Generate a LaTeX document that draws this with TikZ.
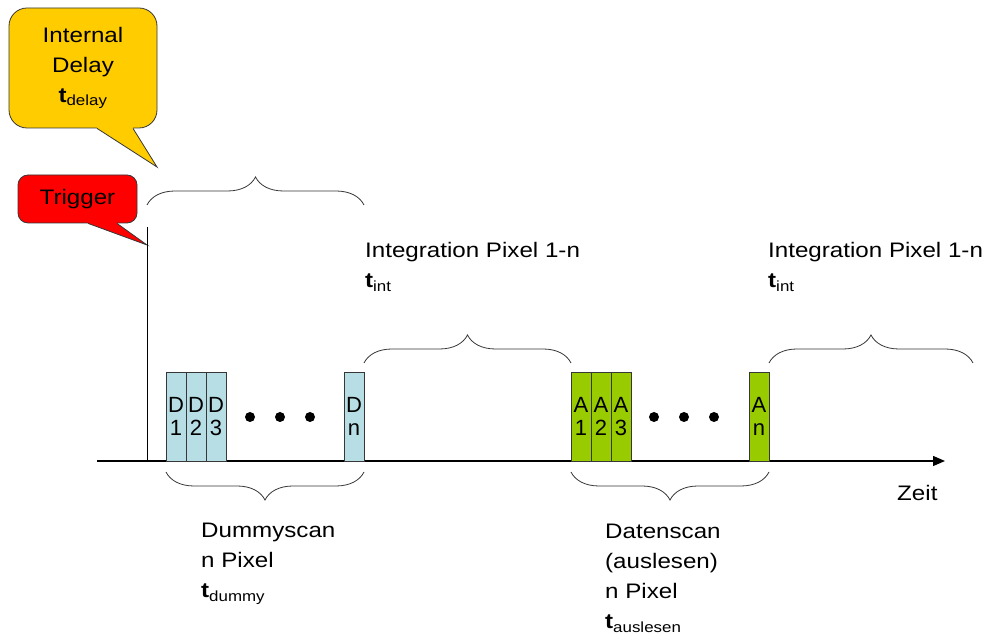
\documentclass[tikz,border=0pt]{standalone}
\usepackage{fontspec}
\setmainfont{Liberation Sans}[FakeStretch=1.15]
\newfontfamily\boxfont{Liberation Sans}
\usetikzlibrary{arrows.meta, positioning, calc, decorations.pathreplacing}
\definecolor{delayyellow}{RGB}{255,204,0}
\definecolor{trigred}{RGB}{255,0,0}
\definecolor{dummyblue}{RGB}{183,222,228}
\definecolor{datagreen}{RGB}{153,204,0}
\definecolor{linegray}{RGB}{55,55,55}
\newcommand{\tsub}[1]{\textbf{t}\textsubscript{#1}}

\begin{document}
\begin{tikzpicture}[
    x=1pt, y=1pt,
    font=\fontsize{21}{30}\selectfont,
    bubble/.style={draw=linegray, line width=0.8pt, rounded corners=#1, align=center, inner sep=0pt},
    pix/.style={draw=linegray, line width=0.8pt, outer sep=0pt, inner sep=0pt, minimum width=20pt, minimum height=89pt, anchor=south west, align=center, font=\boxfont\fontsize{22}{23}\selectfont},
    dummy/.style={pix, fill=dummyblue},
    daten/.style={pix, fill=datagreen},
    dot/.style={circle, fill=black, inner sep=0pt, minimum size=10pt},
    brc/.style={decorate, decoration={brace, amplitude=28pt}, draw=linegray, line width=0.8pt},
    lbl/.style={anchor=north west, inner sep=0pt, align=left},
    axis/.style={line width=1.3pt, -{Triangle[length=12pt, width=10pt]}},
]
\useasboundingbox (0,0) rectangle (989,637);

% --- Callouts ---
\node[bubble=18pt, fill=delayyellow, minimum width=148pt, minimum height=120pt] (delay) at (83,569) {Internal\\Delay\\\tsub{delay}};
\node[bubble=10pt, fill=trigred, minimum width=119pt, minimum height=48pt] (trigger) at (77.5,438) {Trigger};

\coordinate (delaytip) at (157,470);
\coordinate (trigtop) at (147,410);
\coordinate (trigtip) at (147,392);

\fill[delayyellow] ($(delay.south)+(14,2)$) -- ($(delay.south)+(14,0)$) -- (delaytip) -- ($(delay.south)+(50,0)$) -- ($(delay.south)+(50,2)$) -- cycle;
\draw[linegray, line width=0.8pt] ($(delay.south)+(14,0)$) -- (delaytip) -- ($(delay.south)+(50,0)$);
\fill[trigred] ($(trigger.south)+(10.5,2)$) -- ($(trigger.south)+(10.5,0)$) -- (trigtip) -- ($(trigger.south)+(39.5,0)$) -- ($(trigger.south)+(39.5,2)$) -- cycle;
\draw[linegray, line width=0.8pt] ($(trigger.south)+(10.5,0)$) -- (trigtip) -- ($(trigger.south)+(39.5,0)$);

% --- Time axis and trigger ---
\coordinate (axstart) at (97,176);
\coordinate (axend) at (945,176);
\draw[axis] (axstart) -- (axend);
\draw[line width=1pt] (trigtop) -- (trigtop |- axstart);

% --- Dummyscan pixels ---
\node[dummy] (D1) at (166,176) {D\\1};
\node[dummy, right=0pt of D1] (D2) {D\\2};
\node[dummy, right=0pt of D2] (D3) {D\\3};
\node[dummy] (Dn) at (344,176) {D\\n};
\foreach \x in {250,280,310}
    \node[dot] (ddot\x) at (\x,220) {};

% --- Datenscan pixels ---
\node[daten] (A1) at (571,176) {A\\1};
\node[daten, right=0pt of A1] (A2) {A\\2};
\node[daten, right=0pt of A2] (A3) {A\\3};
\node[daten] (An) at (749,176) {A\\n};
\foreach \x in {654,684,714}
    \node[dot] (adot\x) at (\x,220) {};

% --- Braces ---
\coordinate (intend) at (973,274);
\draw[brc] ($(trigtop)+(0,22)$) -- ($(trigtop -| Dn.east)+(0,22)$);
\draw[brc] ($(Dn.north east)+(0,9)$) -- ($(A1.north west)+(0,9)$);
\draw[brc] ($(An.north east)+(0,9)$) -- (intend);
\draw[brc] ($(Dn.south east)+(0,-11)$) -- ($(D1.south west)+(0,-11)$);
\draw[brc] ($(An.south east)+(0,-11)$) -- ($(A1.south west)+(0,-11)$);

% --- Labels ---
\node[lbl] (int1) at (365,394.5) {Integration Pixel 1-n\\\tsub{int}};
\node[lbl] (int2) at (768,394.5) {Integration Pixel 1-n\\\tsub{int}};
\node[lbl] (dummylbl) at (201,114) {Dummyscan\\n Pixel\\\tsub{dummy}};
\node[lbl] (datenlbl) at (605,113) {Datenscan\\(auslesen)\\n Pixel\\\tsub{auslesen}};
\node[anchor=base west, inner sep=0pt] (zeit) at (897,136) {Zeit};

\end{tikzpicture}
\end{document}
